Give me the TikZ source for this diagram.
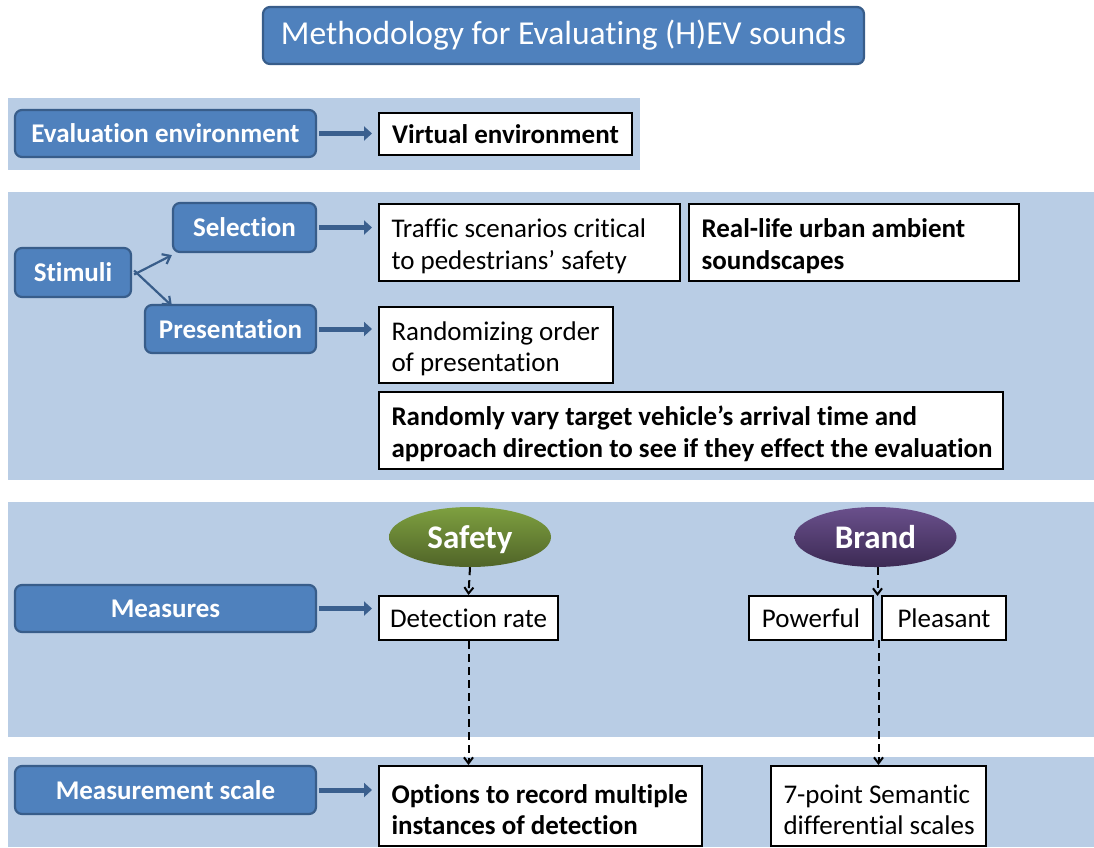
\documentclass[tikz,border=0pt]{standalone}
\usepackage{fontspec}
\setmainfont{Carlito}[Ligatures=NoCommon]
\usetikzlibrary{arrows.meta,shapes.geometric}
\definecolor{panel}{HTML}{B9CDE5}
\definecolor{boxblue}{HTML}{4F81BD}
\definecolor{boxline}{HTML}{385D8A}
\definecolor{arrowblue}{HTML}{3A5F8E}
\newcommand{\bodyfont}{\fontsize{27}{31.5}\selectfont\spaceskip=0.226em plus 0.03em minus 0.03em\relax}
% tall first-line strut, lowers two-line texts a little inside their boxes
\newcommand{\topstrut}{\rule{0pt}{26pt}}
\begin{document}
\begin{tikzpicture}[x=1pt,y=-1pt,
  panelbg/.style={fill=panel,draw=none},
  bluebox/.style={draw=boxline,line width=2.2pt,fill=boxblue,rounded corners=7pt,
    text=white,font=\bodyfont\bfseries,inner sep=0pt},
  whitebox/.style={draw=black,line width=2pt,fill=white,inner sep=0pt,font=\bodyfont},
  boldbox/.style={whitebox,font=\bodyfont\bfseries},
  fatarrow/.style={draw=arrowblue,line width=5pt,-{Triangle[length=8pt,width=14pt]}},
  thinarrow/.style={draw=boxline,line width=2.2pt,-{Straight Barb[length=7pt,width=11pt]}},
  dasharrow/.style={draw=black,line width=2pt,dash pattern=on 8pt off 5pt,
    -{Straight Barb[length=6pt,width=9pt]}},
  oval/.style={ellipse,draw=none,minimum width=162pt,minimum height=60pt,
    text=white,font=\fontsize{33}{38}\selectfont\bfseries,inner sep=0pt,
    text height=25pt,text depth=3pt}
]
\useasboundingbox (0,0) rectangle (1094,847);
\fill[white] (0,0) rectangle (1094,847);

% section panels
\fill[panelbg] (8,98) rectangle (640,170);
\fill[panelbg] (8,192) rectangle (1094,480);
\fill[panelbg] (8,502) rectangle (1094,737);
\fill[panelbg] (8,757) rectangle (1094,847);

% title
\node[bluebox,font=\fontsize{33.5}{38}\selectfont,minimum width=601pt,minimum height=57pt]
  (title) at (563.5,35.5) {Methodology for Evaluating (H)EV sounds};

% evaluation environment
\node[bluebox,minimum width=301pt,minimum height=47pt] (evenv) at (165.5,133.5) {Evaluation environment};
\node[boldbox,minimum width=253pt,minimum height=42pt] (virt) at (505.5,134) {Virtual environment};
\draw[fatarrow] ([xshift=2]evenv.east) -- ([xshift=-6]evenv.east -| virt.west);

% stimuli
\node[bluebox,minimum width=116pt,minimum height=49pt] (stim) at (73,272.5) {Stimuli};
\node[bluebox,minimum width=143pt,minimum height=49pt] (sel) at (244.5,227.5) {Selection};
\node[bluebox,minimum width=171pt,minimum height=48pt] (pres) at (230.5,329) {Presentation};
\draw[thinarrow] ([xshift=2,yshift=-2]stim.east) -- ([yshift=-2]sel.south west);
\draw[thinarrow] ([xshift=2,yshift=2]stim.east) -- ([xshift=28,yshift=-2]pres.north west);

\node[whitebox,minimum width=301pt,minimum height=77pt,text width=276pt,align=flush left]
  (traffic) at (529.5,242.5) {\topstrut\mbox{Traffic scenarios critical}\\\mbox{to pedestrians’ safety}};
\node[boldbox,minimum width=330pt,minimum height=77pt,text width=305pt,align=flush left]
  (urban) at (854,242.5) {\topstrut\mbox{Real-life urban ambient}\\\mbox{soundscapes}};
\draw[fatarrow] ([xshift=2]sel.east) -- ([xshift=-6]sel.east -| traffic.west);

\node[whitebox,minimum width=234pt,minimum height=76pt,text width=209pt,align=flush left]
  (rand) at (496,345) {\topstrut\mbox{Randomizing order}\\\mbox{of presentation}};
\draw[fatarrow] ([xshift=2]pres.east) -- ([xshift=-6]pres.east -| rand.west);

\node[boldbox,minimum width=624pt,minimum height=77pt,text width=599pt,align=flush left]
  (vary) at (691,430.5)
  {\topstrut\mbox{Randomly vary target vehicle’s arrival time and}\\\mbox{approach direction to see if they effect the evaluation}};

% measures
\node[oval,top color={rgb,255:red,126;green,160;blue,64},bottom color={rgb,255:red,80;green,100;blue,40}]
  (safety) at (470,537) {Safety};
\node[oval,top color={rgb,255:red,106;green,80;blue,140},bottom color={rgb,255:red,60;green,42;blue,84}]
  (brand) at (875.5,537) {Brand};

\node[bluebox,minimum width=301pt,minimum height=47pt] (meas) at (165.5,608.5) {Measures};
\node[whitebox,minimum width=179pt,minimum height=44pt] (detect) at (468.5,618) {Detection rate};
\draw[fatarrow] ([xshift=2]meas.east) -- ([xshift=-6]meas.east -| detect.west);

\node[whitebox,minimum width=124pt,minimum height=44pt] (power) at (811,618) {Powerful};
\node[whitebox,minimum width=124pt,minimum height=44pt] (pleas) at (944,618) {Pleasant};
\coordinate (gap) at (877.5,596);
\coordinate (gapb) at (878.5,640);

\draw[dasharrow] (safety.south) -- (detect.north);
\draw[dasharrow] (brand.south -| gap) -- (gap);

% measurement scale
\node[bluebox,minimum width=301pt,minimum height=48pt] (mscale) at (165.5,790) {Measurement scale};
\node[boldbox,minimum width=323pt,minimum height=80pt,text width=298pt,align=flush left]
  (opts) at (540.5,806) {\topstrut\mbox{Options to record multiple}\\\mbox{instances of detection}};
\node[whitebox,minimum width=215pt,minimum height=80pt,text width=190pt,align=flush left]
  (sem) at (878.5,806) {\topstrut\mbox{7-point Semantic}\\\mbox{differential scales}};
\draw[fatarrow] ([xshift=2]mscale.east) -- ([xshift=-6]mscale.east -| opts.west);

\draw[dasharrow] (detect.south) -- (detect.south |- opts.north);
\draw[dasharrow] (gapb) -- (gapb |- sem.north);
\end{tikzpicture}
\end{document}
